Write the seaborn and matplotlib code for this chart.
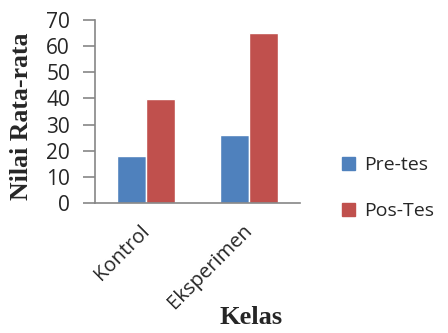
import matplotlib
matplotlib.use("Agg")
import matplotlib.pyplot as plt
import seaborn as sns
import pandas as pd

# Average scores per class, before and after
kelas = ["Kontrol", "Eksperimen"]
pre_tes = [18.1, 25.9]
pos_tes = [39.6, 65.2]
series = ["Pre-tes", "Pos-Tes"]
colors = ["#4F81BD", "#C0504D"]
y_ticks = [0, 10, 20, 30, 40, 50, 60, 70]

df = pd.DataFrame({
    "Kelas": kelas * 2,
    "Nilai": pre_tes + pos_tes,
    "Tes": [series[0]] * len(kelas) + [series[1]] * len(kelas),
})

sns.set_style("white")
fig = plt.figure(figsize=(4.48, 3.33), dpi=100)
ax = fig.add_axes([95 / 448, 1 - 203 / 333, 205 / 448, 183 / 333])

sns.barplot(data=df, x="Kelas", y="Nilai", hue="Tes", palette=colors,
            width=0.566, gap=0, saturation=1, ax=ax, legend=False)

ax.set_ylim(0, 70)
ax.set_xlim(-0.5, 1.5)
ax.set_yticks(y_ticks)
ax.set_yticklabels([str(t) for t in y_ticks], fontfamily="Open Sans", fontsize=15)
ax.set_xticks(range(len(kelas)))
ax.set_xticklabels(kelas, rotation=45, ha="right", va="center",
                   rotation_mode="anchor", fontfamily="Open Sans", fontsize=14.5)
ax.tick_params(axis="y", length=9, width=1.2, color="#868686", pad=9, left=True)
ax.tick_params(axis="x", length=0, pad=18)

for s in ["top", "right"]:
    ax.spines[s].set_visible(False)
for s in ["left", "bottom"]:
    ax.spines[s].set_color("#868686")
    ax.spines[s].set_linewidth(1.2)

ax.set_xlabel("")
ax.set_ylabel("")
fig.text(22 / 448, 1 - 116 / 333, "Nilai Rata-rata", rotation=90, ha="center",
         va="center", fontfamily="Liberation Serif", fontweight="bold", fontsize=18.5)
fig.text(251 / 448, 1 - 318 / 333, "Kelas", ha="center", va="center",
         fontfamily="Liberation Serif", fontweight="bold", fontsize=19)

handles = [plt.Rectangle((0, 0), 1, 1, color=c) for c in colors]
fig.legend(handles, series, loc="center left", bbox_to_anchor=(342 / 448, 1 - 188 / 333),
           frameon=False, prop={"family": "Open Sans", "size": 14},
           borderpad=0, borderaxespad=0,
           handlelength=0.65, handleheight=0.65, handletextpad=0.5, labelspacing=1.45)

fig.savefig("out.png", dpi=100)
